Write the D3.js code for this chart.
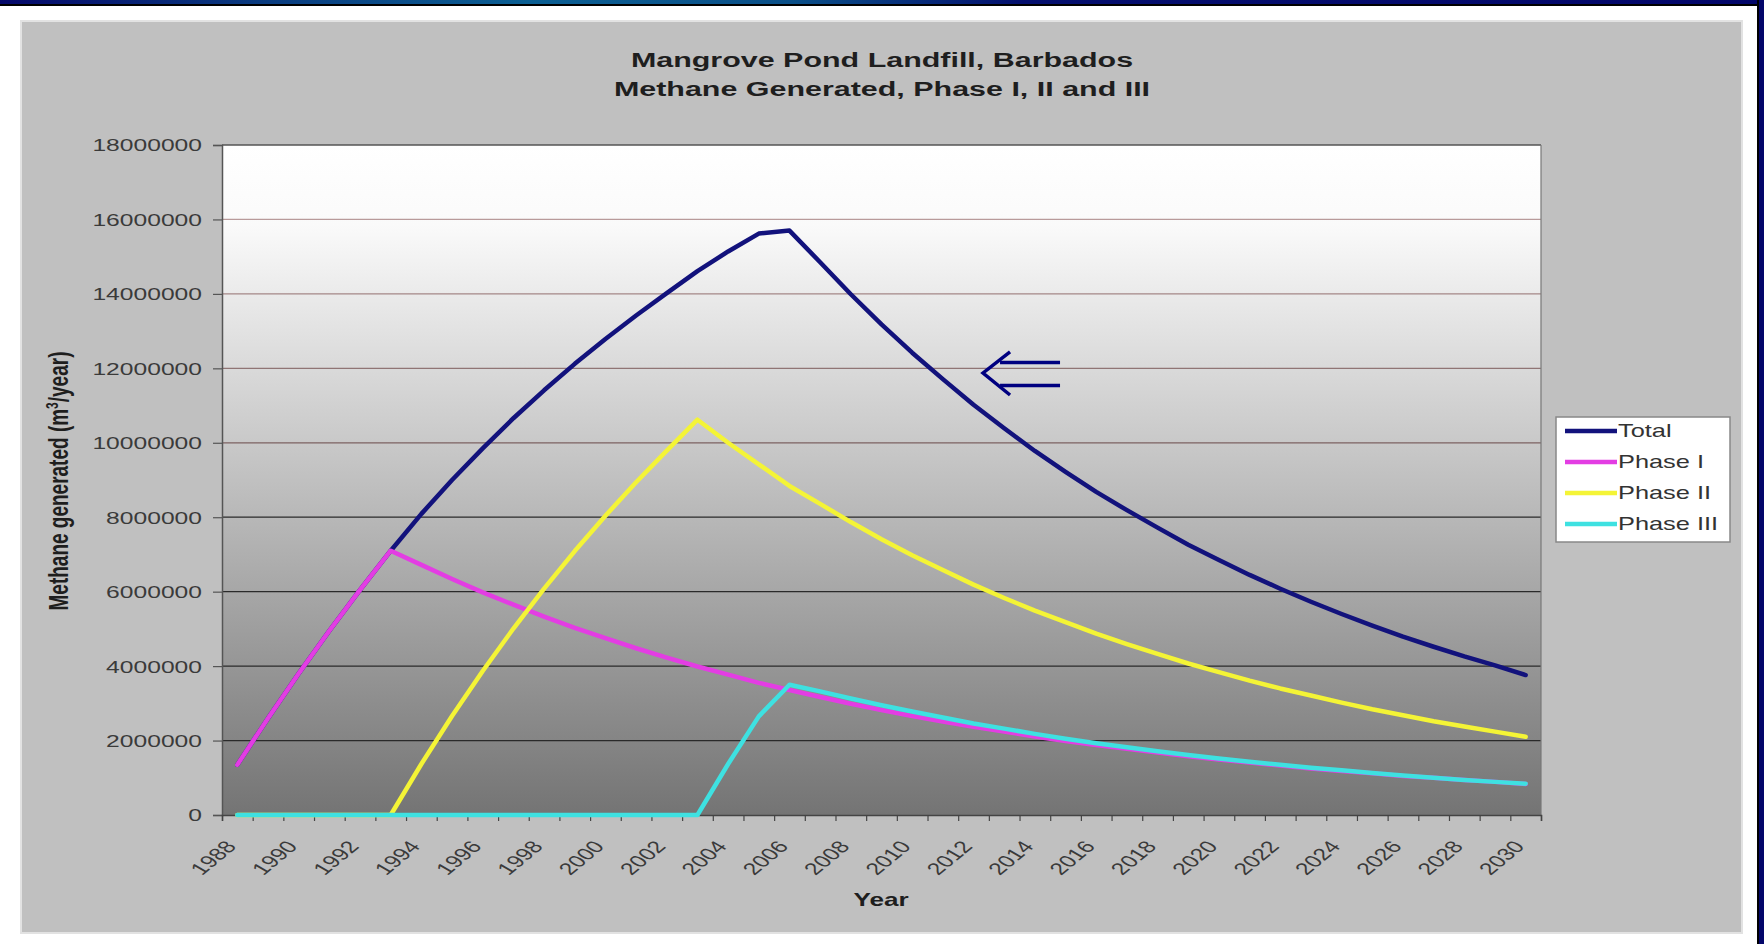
<!DOCTYPE html>
<html><head><meta charset="utf-8">
<script src="https://cdn.jsdelivr.net/npm/d3@7"></script>
<style>
body{margin:0;background:#fff;}
svg{display:block;font-family:"Liberation Sans",Arial,Helvetica,sans-serif;}
</style>
</head><body>
<svg id="c" width="1764" height="944"></svg>
<script>
// ---------- DATA ----------
const years = [1988,1989,1990,1991,1992,1993,1994,1995,1996,1997,1998,1999,2000,2001,2002,2003,2004,2005,2006,2007,2008,2009,2010,2011,2012,2013,2014,2015,2016,2017,2018,2019,2020,2021,2022,2023,2024,2025,2026,2027,2028,2029,2030];
const xTickLabels = [1988,1990,1992,1994,1996,1998,2000,2002,2004,2006,2008,2010,2012,2014,2016,2018,2020,2022,2024,2026,2028,2030];
const yTicks = [0,2000000,4000000,6000000,8000000,10000000,12000000,14000000,16000000,18000000];
const seriesNames = ["Total","Phase I","Phase II","Phase III"];
const total = [1350000,2600000,3800000,4950000,6050000,7100000,8090000,9000000,9850000,10660000,11410000,12120000,12790000,13420000,14020000,14610000,15140000,15620000,15700000,14850000,13990000,13180000,12420000,11710000,11020000,10390000,9780000,9220000,8680000,8190000,7720000,7260000,6850000,6450000,6080000,5730000,5400000,5090000,4790000,4520000,4260000,4020000,3760000];
const phaseI = [1350000,2600000,3800000,4950000,6050000,7100000,6720000,6340000,5980000,5650000,5330000,5030000,4750000,4480000,4230000,3990000,3770000,3550000,3360000,3170000,2990000,2820000,2660000,2510000,2370000,2240000,2110000,1990000,1880000,1780000,1680000,1580000,1490000,1410000,1330000,1250000,1180000,1120000,1050000,1000000,940000,890000,830000];
const phaseII = [0,0,0,0,0,0,1370000,2660000,3870000,5010000,6080000,7090000,8040000,8940000,9790000,10620000,10000000,9420000,8840000,8360000,7870000,7410000,6980000,6580000,6190000,5830000,5490000,5180000,4870000,4590000,4330000,4070000,3840000,3610000,3400000,3210000,3020000,2840000,2680000,2520000,2380000,2240000,2100000];
const phaseIII = [0,0,0,0,0,0,0,0,0,0,0,0,0,0,0,0,1370000,2650000,3500000,3320000,3130000,2950000,2780000,2620000,2460000,2320000,2180000,2050000,1930000,1820000,1710000,1610000,1520000,1430000,1350000,1270000,1200000,1130000,1060000,1000000,940000,890000,840000];
const seriesColors = ["#12127c","#e33de3","#f4f436","#3ee1e1"];
const titleLines = ["Mangrove Pond Landfill, Barbados","Methane Generated, Phase I, II and III"];
const yTitle = ["Methane generated (m","3","/year)"];
const xTitle = "Year";

// ---------- DRAW ----------
const SX = 1.45; // horizontal stretch of the original picture
const svg = d3.select("#c");
const defs = svg.append("defs");

const topGrad = defs.append("linearGradient").attr("id","topbar").attr("x1","0").attr("x2","1").attr("y1","0").attr("y2","0");
[["0%","#05086a"],["15%","#0a3c80"],["30%","#0b5f93"],["45%","#0a4f88"],["58%","#040f6e"],["100%","#03066a"]]
  .forEach(s=>topGrad.append("stop").attr("offset",s[0]).attr("stop-color",s[1]));

const plotGrad = defs.append("linearGradient").attr("id","plotbg").attr("x1","0").attr("x2","0").attr("y1","0").attr("y2","1");
[["0%","#ffffff"],["12%","#fafafa"],["100%","#747474"]]
  .forEach(s=>plotGrad.append("stop").attr("offset",s[0]).attr("stop-color",s[1]));

// page frame
svg.append("rect").attr("width",1764).attr("height",944).attr("fill","#ffffff");
svg.append("rect").attr("x",20).attr("y",20).attr("width",1723).attr("height",914).attr("fill","#e2e2e2");
svg.append("rect").attr("x",22).attr("y",22).attr("width",1719).attr("height",910).attr("fill","#c0c0c0");
svg.append("rect").attr("x",0).attr("y",0).attr("width",1764).attr("height",4).attr("fill","url(#topbar)");
svg.append("rect").attr("x",0).attr("y",4).attr("width",1764).attr("height",2).attr("fill","#000");
svg.append("rect").attr("x",1757).attr("y",0).attr("width",2).attr("height",944).attr("fill","#000");
svg.append("rect").attr("x",1759).attr("y",0).attr("width",5).attr("height",944).attr("fill","#03066a");

const m = {l:222, r:1541, t:145, b:815};
const xIdx = d3.scaleLinear().domain([0, years.length]).range([m.l, m.r]);
const xBand = d3.scaleBand().domain(years).range([m.l, m.r]).padding(0);
const xc = yr => xBand(yr) + xBand.bandwidth()/2;
const y = d3.scaleLinear().domain([0, 18000000]).range([m.b, m.t]);

// plot background
svg.append("rect").attr("x",m.l).attr("y",m.t).attr("width",m.r-m.l).attr("height",m.b-m.t).attr("fill","url(#plotbg)");

// gridlines
const gridCol = d3.scaleLinear().domain([8000000, 10000000, 16000000]).range(["#2a2a2a","#7c6262","#b89a9a"]).clamp(true);
svg.append("g").selectAll("line").data(yTicks.filter(v => v > 0 && v < 18000000)).join("line")
  .attr("x1",m.l).attr("x2",m.r).attr("y1",d=>y(d)).attr("y2",d=>y(d))
  .attr("stroke",d=>gridCol(d)).attr("stroke-width",1.3);

// plot border
svg.append("line").attr("x1",m.l).attr("x2",m.r).attr("y1",m.t).attr("y2",m.t).attr("stroke","#555").attr("stroke-width",1.5);
svg.append("line").attr("x1",m.r).attr("x2",m.r).attr("y1",m.t).attr("y2",m.b).attr("stroke","#777").attr("stroke-width",1.2);

// y axis
const gy = svg.append("g").attr("transform",`translate(${m.l},0)`)
  .call(d3.axisLeft(y).tickValues(yTicks).tickSize(9).tickFormat(d3.format("d")));
gy.select(".domain").attr("stroke","#555").attr("stroke-width",1.5);
gy.selectAll(".tick line").attr("stroke","#555").attr("stroke-width",1.2);
gy.selectAll(".tick text").attr("x",0).attr("dy","0.35em")
  .attr("transform",`translate(-20,0) scale(${SX},1)`)
  .attr("font-size",17).attr("fill","#3a3a3a").attr("text-anchor","end");

// x axis ticks (category boundaries)
const gxt = svg.append("g").attr("transform",`translate(0,${m.b})`)
  .call(d3.axisBottom(xIdx).tickValues(d3.range(0, years.length+1)).tickSize(6).tickFormat(""));
gxt.select(".domain").attr("stroke","#444").attr("stroke-width",1.5);
gxt.selectAll(".tick line").attr("stroke","#444").attr("stroke-width",1.2);

// x axis labels
const gxl = svg.append("g").attr("transform",`translate(0,${m.b})`)
  .call(d3.axisBottom(xBand).tickValues(xTickLabels).tickSize(0));
gxl.select(".domain").remove();
gxl.selectAll(".tick text").attr("y",0).attr("dy",0)
  .attr("transform",`translate(0,32) scale(${SX},1) rotate(-50)`)
  .attr("text-anchor","end").attr("font-size",17).attr("fill","#3a3a3a");

// series
const allSeries = [total, phaseI, phaseII, phaseIII];
const line = d3.line().x((d,i)=>xc(years[i])).y(d=>y(d)).curve(d3.curveLinear);
svg.append("g").selectAll("path").data(allSeries).join("path")
  .attr("d", d=>line(d)).attr("fill","none")
  .attr("stroke",(d,i)=>seriesColors[i]).attr("stroke-width",4.5)
  .attr("stroke-linejoin","round").attr("stroke-linecap","round");

// titles
svg.append("g").selectAll("text").data(titleLines).join("text")
  .attr("transform",(d,i)=>`translate(882,${67+i*29}) scale(${SX},1)`)
  .attr("text-anchor","middle").attr("font-size",21).attr("font-weight","bold").attr("fill","#1e1e1e")
  .text(d=>d);

const yt = svg.append("text")
  .attr("transform",`translate(68,481) scale(${SX},1) rotate(-90)`)
  .attr("text-anchor","middle").attr("font-size",19).attr("font-weight","bold").attr("fill","#1e1e1e");
yt.append("tspan").text(yTitle[0]);
yt.append("tspan").attr("dy",-7).attr("font-size",12).text(yTitle[1]);
yt.append("tspan").attr("dy",7).text(yTitle[2]);

svg.append("text").attr("transform",`translate(881,906) scale(${SX},1)`)
  .attr("text-anchor","middle").attr("font-size",18).attr("font-weight","bold").attr("fill","#1e1e1e")
  .text(xTitle);

// legend
const lg = svg.append("g");
lg.append("rect").attr("x",1556).attr("y",417).attr("width",174).attr("height",125)
  .attr("fill","#ffffff").attr("stroke","#888").attr("stroke-width",1.5);
const items = lg.selectAll("g").data(seriesNames).join("g")
  .attr("transform",(d,i)=>`translate(0,${431+i*31})`);
items.append("line").attr("x1",1565).attr("x2",1617).attr("y1",0).attr("y2",0)
  .attr("stroke",(d,i)=>seriesColors[i]).attr("stroke-width",4.5);
items.append("text").attr("transform",`translate(1618,0) scale(${SX},1)`)
  .attr("dy","0.36em").attr("font-size",17.5).attr("fill","#333").text(d=>d);

// annotation arrow (⇐) pointing at the Total curve
const ax = xIdx(24.81), ay = y(11875000);
const arr = svg.append("g").attr("fill","none").attr("stroke","#000080").attr("stroke-width",3.5).attr("stroke-linecap","butt");
arr.append("path").attr("d",`M${ax+27},${ay-21} L${ax},${ay} L${ax+27},${ay+22}`);
arr.append("line").attr("x1",ax+17).attr("x2",ax+77).attr("y1",ay-10.5).attr("y2",ay-10.5);
arr.append("line").attr("x1",ax+17).attr("x2",ax+77).attr("y1",ay+12.5).attr("y2",ay+12.5);
</script>
</body></html>
